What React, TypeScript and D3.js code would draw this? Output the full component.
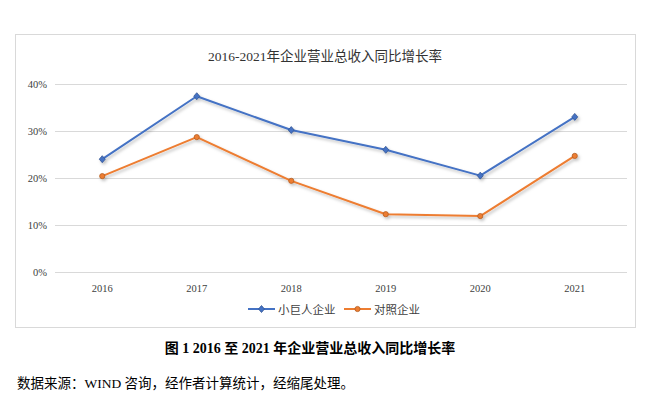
import React, { useRef, useEffect } from "react";
import * as d3 from "d3";

const years = ["2016", "2017", "2018", "2019", "2020", "2021"];
const giantValues = [24.0, 37.4, 30.2, 26.0, 20.5, 33.0];
const controlValues = [20.4, 28.7, 19.4, 12.3, 11.9, 24.7];
const yTicks = [0, 10, 20, 30, 40];
const seriesNames = ["小巨人企业", "对照企业"];

const FONT = "'Liberation Serif', 'Noto Sans CJK SC', serif";
const CJK = "'Noto Sans CJK SC', 'Liberation Serif', serif";

const App = () => {
  const ref = useRef<SVGSVGElement>(null);

  useEffect(() => {
    const svg = d3.select(ref.current);
    svg.selectAll("*").remove();

    const W = 664,
      H = 398;
    const plot = { left: 55, right: 622, top: 84, bottom: 272 };

    svg.append("rect").attr("width", W).attr("height", H).attr("fill", "#fff");

    // chart frame
    svg
      .append("rect")
      .attr("x", 15.5)
      .attr("y", 34.5)
      .attr("width", 620)
      .attr("height", 293)
      .attr("fill", "#fff")
      .attr("stroke", "#d9d9d9");

    svg
      .append("text")
      .attr("x", 325)
      .attr("y", 61)
      .attr("text-anchor", "middle")
      .attr("font-family", FONT)
      .attr("font-size", 13.5)
      .attr("fill", "#333")
      .text("2016-2021年企业营业总收入同比增长率");

    const x = d3.scaleBand().domain(years).range([plot.left, plot.right]);
    const y = d3.scaleLinear().domain([0, 40]).range([plot.bottom, plot.top]);
    const cx = (d: string) => (x(d) as number) + x.bandwidth() / 2;

    const defs = svg.append("defs");
    const f = defs
      .append("filter")
      .attr("id", "shadow")
      .attr("x", "-10%")
      .attr("y", "-10%")
      .attr("width", "120%")
      .attr("height", "130%");
    f.append("feDropShadow")
      .attr("dx", 1.5)
      .attr("dy", 2)
      .attr("stdDeviation", 1.5)
      .attr("flood-color", "#000")
      .attr("flood-opacity", 0.25);

    const grid = svg.append("g");
    yTicks.forEach((t) => {
      grid
        .append("line")
        .attr("x1", plot.left)
        .attr("x2", plot.right + 5)
        .attr("y1", Math.round(y(t)) + 0.5)
        .attr("y2", Math.round(y(t)) + 0.5)
        .attr("stroke", "#d9d9d9");
      grid
        .append("text")
        .attr("x", 47)
        .attr("y", y(t) + 4)
        .attr("text-anchor", "end")
        .attr("font-family", FONT)
        .attr("font-size", 10.5)
        .attr("fill", "#404040")
        .text(`${t}%`);
    });

    years.forEach((yr) => {
      svg
        .append("text")
        .attr("x", cx(yr))
        .attr("y", 292)
        .attr("text-anchor", "middle")
        .attr("font-family", FONT)
        .attr("font-size", 10.5)
        .attr("fill", "#404040")
        .text(yr);
    });

    const line = d3
      .line<number>()
      .x((_, i) => cx(years[i]))
      .y((d) => y(d));

    const series = [
      { values: giantValues, color: "#4472c4", shape: "diamond" },
      { values: controlValues, color: "#ed7d31", shape: "circle" },
    ];

    const drawMarker = (
      g: d3.Selection<SVGGElement, unknown, null, undefined>,
      shape: string,
      color: string,
      px: number,
      py: number
    ) => {
      if (shape === "diamond") {
        g.append("path")
          .attr("d", `M${px},${py - 3.5}L${px + 3},${py}L${px},${py + 3.5}L${px - 3},${py}Z`)
          .attr("fill", color)
          .attr("stroke", d3.color(color)!.darker(0.8).toString())
          .attr("stroke-width", 0.8);
      } else {
        g.append("circle")
          .attr("cx", px)
          .attr("cy", py)
          .attr("r", 2.6)
          .attr("fill", color)
          .attr("stroke", d3.color(color)!.darker(0.8).toString())
          .attr("stroke-width", 0.8);
      }
    };

    series.forEach((s) => {
      const g = svg.append("g").attr("filter", "url(#shadow)");
      g.append("path")
        .datum(s.values)
        .attr("fill", "none")
        .attr("stroke", s.color)
        .attr("stroke-width", 2)
        .attr("stroke-linejoin", "round")
        .attr("d", line);
      s.values.forEach((v, i) => drawMarker(g, s.shape, s.color, cx(years[i]), y(v)));
    });

    // legend
    const legendItems = [
      { x: 248, color: series[0].color, shape: series[0].shape, name: seriesNames[0] },
      { x: 344, color: series[1].color, shape: series[1].shape, name: seriesNames[1] },
    ];
    legendItems.forEach((l) => {
      const g = svg.append("g");
      g.append("line")
        .attr("x1", l.x)
        .attr("x2", l.x + 27)
        .attr("y1", 309)
        .attr("y2", 309)
        .attr("stroke", l.color)
        .attr("stroke-width", 2);
      drawMarker(g, l.shape, l.color, l.x + 13.5, 309);
      g.append("text")
        .attr("x", l.x + 30)
        .attr("y", 313.5)
        .attr("font-family", CJK)
        .attr("font-size", 11.5)
        .attr("fill", "#404040")
        .text(l.name);
    });

    svg
      .append("text")
      .attr("x", 310)
      .attr("y", 353)
      .attr("text-anchor", "middle")
      .attr("font-family", FONT)
      .attr("font-weight", "bold")
      .attr("font-size", 14)
      .attr("fill", "#000")
      .text("图 1 2016 至 2021 年企业营业总收入同比增长率");

    svg
      .append("text")
      .attr("x", 17)
      .attr("y", 388)
      .attr("font-family", FONT)
      .attr("font-size", 13.5)
      .attr("fill", "#000")
      .text("数据来源：WIND 咨询，经作者计算统计，经缩尾处理。");
  }, []);

  return (
    <svg
      ref={ref}
      width={664}
      height={398}
      style={{ position: "absolute", left: 0, top: 0, display: "block" }}
    />
  );
};

export default App;
